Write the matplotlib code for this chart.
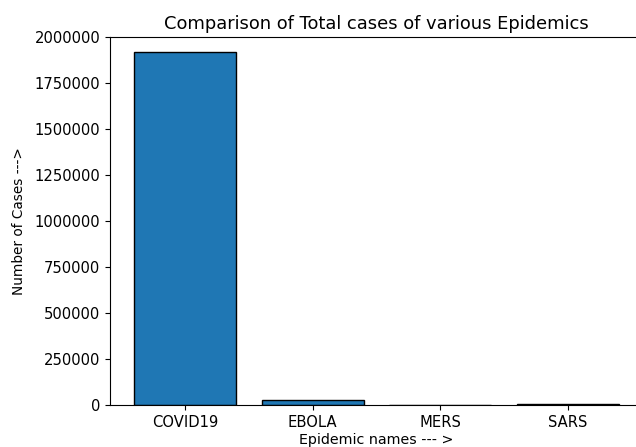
import matplotlib
matplotlib.use("Agg")
import matplotlib.pyplot as plt

epidemics = ["COVID19", "EBOLA", "MERS", "SARS"]
total_cases = [1920000, 28600, 2494, 8096]
yticks = [0, 250000, 500000, 750000, 1000000, 1250000, 1500000, 1750000, 2000000]

W, H = 636, 447
fig = plt.figure(figsize=(W / 100, H / 100), dpi=100)
ax = fig.add_axes([110 / W, (H - 405) / H, 533 / W, 368 / H])

ax.bar(epidemics, total_cases, width=0.8, color="#1f77b4", edgecolor="black", linewidth=1)
ax.set_xlim(-0.59, 3.59)
ax.set_ylim(0, 2000000)
ax.set_yticks(yticks)
ax.set_yticklabels([str(v) for v in yticks])
ax.tick_params(labelsize=10.6)

ax.set_title("Comparison of Total cases of various Epidemics", fontsize=12.9, pad=6)
ax.set_xlabel("Epidemic names --- >", fontsize=10.3, labelpad=2.5)
ax.set_ylabel("Number of Cases --->", fontsize=9.8, labelpad=6)

fig.savefig("out.png", dpi=100)
